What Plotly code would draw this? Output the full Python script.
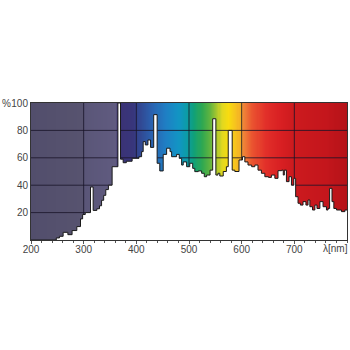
import numpy as np
import plotly.graph_objects as go

# Spectral power distribution (step data: wavelength where step starts, relative %)
wavelength = [200, 248, 254, 261, 270, 278, 287, 294, 298, 303, 313, 318, 325, 330, 334, 338, 342, 347,
              354, 365, 370, 375, 381, 392, 405, 410, 413, 417, 422, 427, 433, 439.5, 444.5, 451, 457.5,
              464, 467, 476.5, 481.5, 486, 489, 495.5, 501.5, 507, 511, 517.5, 524, 529, 533.5, 540, 545,
              551, 555, 558.5, 565, 571, 574.5, 582, 587, 595, 601.5, 606, 612, 619, 625, 631, 637.5, 644,
              651, 656.5, 663, 669, 676, 679, 681, 685, 690, 694.5, 699, 702.5, 707, 711.5, 716.5, 722,
              726, 729.5, 734.5, 739, 743, 748.5, 754.5, 761, 764, 767, 771.5, 775, 780, 789.5, 796, 800]
relative = [0, 1.5, 2.7, 5.6, 3.9, 6.9, 9.8, 15.4, 18.6, 20, 38.7, 21.6, 22.8, 25, 29, 32.6, 36.8, 40,
            53.5, 100, 59, 56.4, 57.5, 59.6, 60.8, 64.5, 71.8, 69.4, 73, 67.6, 91.5, 56, 50.4, 62.5, 67,
            64.5, 60.8, 62.5, 59.6, 54.7, 57, 53.5, 56, 52.3, 49.9, 50.4, 48.7, 46.2, 47.4, 51, 88.5,
            47.4, 48.7, 46.7, 50, 53.5, 80, 51, 50, 58.4, 60.8, 57, 54.7, 53.5, 54.7, 51, 48.7, 46.2,
            45.7, 47.4, 45, 50.6, 51, 47.4, 51, 42.6, 46.2, 40, 45, 31.6, 26.8, 25.5, 28, 25.5,
            29.2, 24.3, 21.9, 25.5, 23, 28, 24.3, 21.9, 23, 37.7, 28, 23, 21.9, 20.7, 21.9, 21.9]

x_ticks = [200, 300, 400, 500, 600, 700]
y_ticks = [20, 40, 60, 80, 100]
x_grid = [300, 400, 500, 600, 700]
y_grid = [20, 40, 60, 80]

# Background spectrum colour stops (wavelength, colour)
spec_nm = [200, 298, 302, 362, 365, 395, 405, 430, 455, 480, 495, 510, 525, 540, 552, 562, 575,
           590, 599, 602, 620, 645, 675, 700, 760, 800]
spec_col = ["#524e6c", "#57536f", "#5a5678", "#605b80", "#3b3274", "#38367c", "#324690", "#2a62b0",
            "#1f7ec4", "#1294c4", "#0c9ca8", "#10a078", "#30a850", "#60b440", "#a0c430", "#e0d820",
            "#f8dc10", "#f6c020", "#f2a828", "#f08838", "#ea5430", "#e2302a", "#d81f22", "#cc1a1e",
            "#c4161c", "#b41218"]

xmin, xmax = 200, 800
colorscale = [[(n - xmin) / (xmax - xmin), c] for n, c in zip(spec_nm, spec_col)]

edges = np.arange(xmin, xmax + 1, 2)
centers = (edges[:-1] + edges[1:]) / 2

fig = go.Figure()
fig.add_trace(go.Heatmap(x=edges, y=[0, 100], z=[centers], colorscale=colorscale,
                         zmin=xmin, zmax=xmax, showscale=False, hoverinfo="skip"))

gx, gy = [], []
for v in x_grid:
    gx += [v, v, None]
    gy += [0, 100, None]
for h in y_grid:
    gx += [xmin, xmax, None]
    gy += [h, h, None]
fig.add_trace(go.Scatter(x=gx, y=gy, mode="lines", line=dict(color="rgba(25,20,40,0.8)", width=1),
                         hoverinfo="skip", showlegend=False))

fig.add_trace(go.Scatter(x=wavelength, y=relative, mode="lines", line_shape="hv",
                         line=dict(color="#1a1a1a", width=1), fill="tozeroy", fillcolor="white",
                         showlegend=False))

font = dict(family="Liberation Sans, Arial, sans-serif", size=10, color="#444")
fig.update_layout(
    width=350, height=350, margin=dict(l=31, r=3, t=103, b=110),
    paper_bgcolor="white", plot_bgcolor="white", showlegend=False, font=font,
    xaxis=dict(range=[xmin, xmax], tickvals=x_ticks, showgrid=False, zeroline=False,
               showline=True, linecolor="#333", linewidth=1, mirror=True,
               ticks="outside", ticklen=3, tickcolor="#555", ticklabelstandoff=-3,
               minor=dict(dtick=20, ticks="outside", ticklen=2, tickcolor="#555", showgrid=False)),
    yaxis=dict(range=[0, 100], tickvals=y_ticks, showgrid=False, zeroline=False,
               showline=True, linecolor="#333", linewidth=1, mirror=True, ticks=""),
    annotations=[
        dict(text="%", xref="paper", yref="paper", x=0, y=1, xanchor="left", yanchor="middle",
             xshift=-31, showarrow=False, font=font),
        dict(text="λ[nm]", xref="paper", yref="paper", x=1, y=0, xanchor="right", yanchor="top",
             xshift=3, yshift=-1, showarrow=False, font=font),
    ],
)

fig.write_html("out.html")
